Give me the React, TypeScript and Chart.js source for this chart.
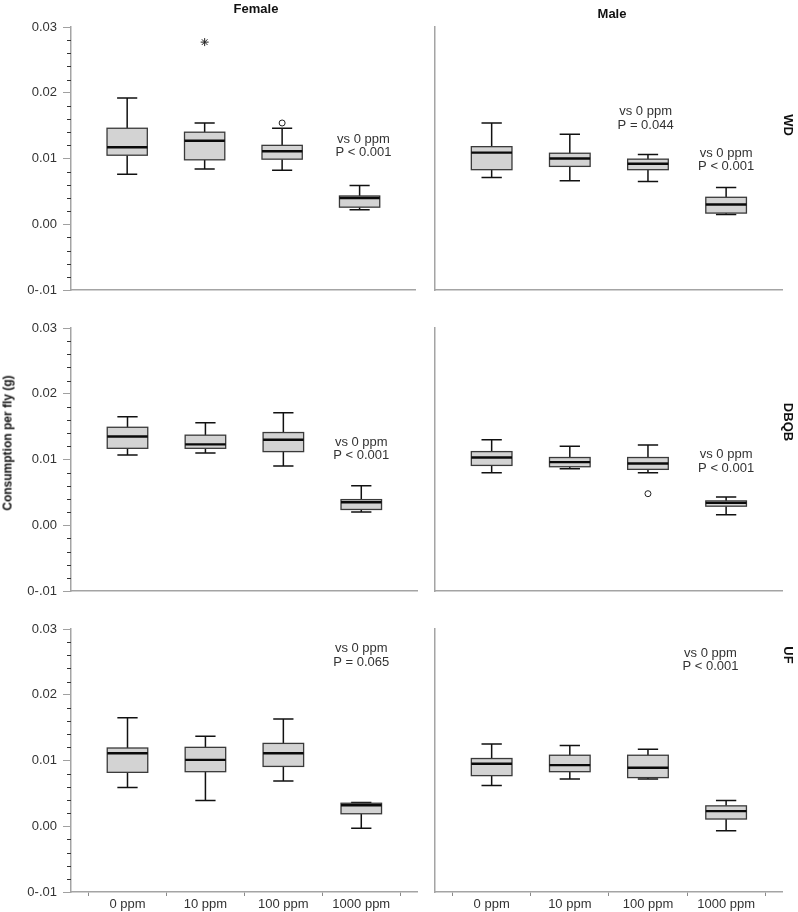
import React, { useEffect, useRef } from 'react';
import { Chart, registerables } from 'chart.js';

Chart.register(...registerables);

const FONT = '"Liberation Sans", Arial, sans-serif';

const doses = ['0 ppm', '10 ppm', '100 ppm', '1000 ppm'];

// y axis: major tick values and their printed labels
const yMajorValues = [-0.01, 0, 0.01, 0.02, 0.03];
const yMajorLabels = ['0-.01', '0.00', '0.01', '0.02', '0.03'];

// five-number summaries per dose: [lower whisker, Q1, median, Q3, upper whisker]
const wdFemale = [
  [0.0076, 0.0105, 0.0117, 0.0146, 0.0192],
  [0.0084, 0.0098, 0.0127, 0.014, 0.0154],
  [0.0082, 0.0099, 0.0111, 0.012, 0.0146],
  [0.0022, 0.0026, 0.004, 0.0043, 0.0059],
];
const wdMale = [
  [0.0071, 0.0083, 0.0109, 0.0118, 0.0154],
  [0.0066, 0.0088, 0.01, 0.0108, 0.0137],
  [0.0065, 0.0083, 0.0092, 0.0099, 0.0106],
  [0.0015, 0.0017, 0.003, 0.0041, 0.0056],
];
const dbqbFemale = [
  [0.0107, 0.0117, 0.0135, 0.0149, 0.0165],
  [0.011, 0.0117, 0.0123, 0.0137, 0.0156],
  [0.009, 0.0112, 0.013, 0.0141, 0.0171],
  [0.002, 0.0024, 0.0035, 0.0039, 0.006],
];
const dbqbMale = [
  [0.008, 0.0091, 0.0103, 0.0112, 0.013],
  [0.0086, 0.0089, 0.0096, 0.0103, 0.012],
  [0.008, 0.0085, 0.0094, 0.0103, 0.0122],
  [0.0016, 0.0029, 0.0034, 0.0037, 0.0043],
];
const ufFemale = [
  [0.0059, 0.0082, 0.0111, 0.0119, 0.0165],
  [0.0039, 0.0083, 0.0101, 0.012, 0.0137],
  [0.0069, 0.0091, 0.0111, 0.0126, 0.0163],
  [-0.0003, 0.0019, 0.0032, 0.0035, 0.0036],
];
const ufMale = [
  [0.0062, 0.0077, 0.0095, 0.0103, 0.0125],
  [0.0072, 0.0083, 0.0093, 0.0108, 0.0123],
  [0.0072, 0.0074, 0.0089, 0.0108, 0.0117],
  [-0.0007, 0.0011, 0.0023, 0.0031, 0.0039],
];

// outliers: dose index, value, extreme (*) or mild (o)
const wdFemaleOutliers = [
  { dose: 1, value: 0.0277, extreme: true },
  { dose: 2, value: 0.0154, extreme: false },
];
const dbqbMaleOutliers = [{ dose: 2, value: 0.0048, extreme: false }];

// comparison notes, centred at (dose position, value)
const wdFemaleNotes = [{ dose: 3.05, value: 0.0119, text: ['vs 0 ppm', 'P < 0.001'] }];
const wdMaleNotes = [
  { dose: 1.97, value: 0.0161, text: ['vs 0 ppm', 'P = 0.044'] },
  { dose: 3.0, value: 0.0098, text: ['vs 0 ppm', 'P < 0.001'] },
];
const dbqbFemaleNotes = [{ dose: 3.0, value: 0.0116, text: ['vs 0 ppm', 'P < 0.001'] }];
const dbqbMaleNotes = [{ dose: 3.0, value: 0.0097, text: ['vs 0 ppm', 'P < 0.001'] }];
const ufFemaleNotes = [{ dose: 3.0, value: 0.026, text: ['vs 0 ppm', 'P = 0.065'] }];
const ufMaleNotes = [{ dose: 2.8, value: 0.0253, text: ['vs 0 ppm', 'P < 0.001'] }];

type Outlier = { dose: number; value: number; extreme: boolean };
type Note = { dose: number; value: number; text: string[] };

const columns = [
  { left: 0, width: 420, axisWidth: 71, padRight: 3, showY: true },
  { left: 420, width: 378, axisWidth: 15, padRight: 16, showY: false },
];
const rows = [
  { top: 0, height: 300, padTop: 27, axisHeight: 10, showX: false },
  { top: 300, height: 300, padTop: 28, axisHeight: 9, showX: false },
  { top: 600, height: 312, padTop: 29, axisHeight: 20, showX: true },
];

const panels: { row: number; col: number; boxes: number[][]; outliers: Outlier[]; notes: Note[] }[] = [
  { row: 0, col: 0, boxes: wdFemale, outliers: wdFemaleOutliers, notes: wdFemaleNotes },
  { row: 0, col: 1, boxes: wdMale, outliers: [], notes: wdMaleNotes },
  { row: 1, col: 0, boxes: dbqbFemale, outliers: [], notes: dbqbFemaleNotes },
  { row: 1, col: 1, boxes: dbqbMale, outliers: dbqbMaleOutliers, notes: dbqbMaleNotes },
  { row: 2, col: 0, boxes: ufFemale, outliers: [], notes: ufFemaleNotes },
  { row: 2, col: 1, boxes: ufMale, outliers: [], notes: ufMaleNotes },
];

const AXIS_COLOR = '#a4a4a4';
const TEXT_COLOR = '#333333';
const BOX_HALF = 0.26;
const CAP_HALF = 0.13;

const isMajor = (v: number) => Math.round(v * 500) % 5 === 0;

function Panel({ row, col, boxes, outliers, notes }: typeof panels[number]) {
  const ref = useRef<HTMLCanvasElement | null>(null);
  const r = rows[row];
  const c = columns[col];

  useEffect(() => {
    if (!ref.current) return;

    const yTicks: number[] = [];
    for (let k = -5; k <= 15; k++) yTicks.push(k * 0.002);
    const xTicks = [-0.5, 0, 0.5, 1, 1.5, 2, 2.5, 3, 3.5];

    const boxPlugin = {
      id: 'boxplots',
      beforeDatasetsDraw(chart: any) {
        const { ctx, scales } = chart;
        const xs = scales.x;
        const ys = scales.y;
        ctx.save();
        boxes.forEach((b, i) => {
          const [lo, q1, med, q3, hi] = b;
          const xc = xs.getPixelForValue(i);
          const x0 = xs.getPixelForValue(i - BOX_HALF);
          const x1 = xs.getPixelForValue(i + BOX_HALF);
          const c0 = xs.getPixelForValue(i - CAP_HALF);
          const c1 = xs.getPixelForValue(i + CAP_HALF);
          const yLo = ys.getPixelForValue(lo);
          const yQ1 = ys.getPixelForValue(q1);
          const yMed = ys.getPixelForValue(med);
          const yQ3 = ys.getPixelForValue(q3);
          const yHi = ys.getPixelForValue(hi);

          // whiskers and caps
          ctx.strokeStyle = '#111';
          ctx.lineWidth = 1.5;
          ctx.beginPath();
          ctx.moveTo(xc, yHi);
          ctx.lineTo(xc, yQ3);
          ctx.moveTo(xc, yQ1);
          ctx.lineTo(xc, yLo);
          ctx.moveTo(c0, yHi);
          ctx.lineTo(c1, yHi);
          ctx.moveTo(c0, yLo);
          ctx.lineTo(c1, yLo);
          ctx.stroke();

          // interquartile box
          ctx.fillStyle = '#d3d3d3';
          ctx.fillRect(x0, yQ3, x1 - x0, yQ1 - yQ3);
          ctx.strokeStyle = '#3a3a3a';
          ctx.lineWidth = 1.3;
          ctx.strokeRect(x0, yQ3, x1 - x0, yQ1 - yQ3);

          // median
          ctx.strokeStyle = '#0a0a0a';
          ctx.lineWidth = 2.4;
          ctx.beginPath();
          ctx.moveTo(x0, yMed);
          ctx.lineTo(x1, yMed);
          ctx.stroke();
        });
        ctx.restore();
      },
      afterDraw(chart: any) {
        const { ctx, scales, chartArea } = chart;
        const xs = scales.x;
        const ys = scales.y;
        ctx.save();
        // minor ticks on the value axis
        if (c.showY) {
          ctx.strokeStyle = '#333';
          ctx.lineWidth = 1;
          ctx.beginPath();
          yTicks.forEach((v) => {
            if (isMajor(v)) return;
            const yp = Math.round(ys.getPixelForValue(v)) + 0.5;
            ctx.moveTo(chartArea.left - 4, yp);
            ctx.lineTo(chartArea.left, yp);
          });
          ctx.stroke();
        }
        // comparison notes
        ctx.fillStyle = TEXT_COLOR;
        ctx.font = `13px ${FONT}`;
        ctx.textAlign = 'center';
        ctx.textBaseline = 'middle';
        notes.forEach((n) => {
          const xp = xs.getPixelForValue(n.dose);
          const yp = ys.getPixelForValue(n.value);
          const lh = 13.5;
          n.text.forEach((line, k) => {
            ctx.fillText(line, xp, yp + (k - (n.text.length - 1) / 2) * lh);
          });
        });
        ctx.restore();
      },
    };

    const chart = new Chart(ref.current, {
      type: 'scatter',
      data: {
        datasets: [
          {
            data: outliers.filter((o) => !o.extreme).map((o) => ({ x: o.dose, y: o.value })),
            pointStyle: 'circle',
            pointRadius: 3,
            borderColor: '#222',
            backgroundColor: 'rgba(0,0,0,0)',
            borderWidth: 1,
          },
          {
            data: outliers.filter((o) => o.extreme).map((o) => ({ x: o.dose, y: o.value })),
            pointStyle: 'star',
            pointRadius: 4,
            borderColor: '#222',
            backgroundColor: 'rgba(0,0,0,0)',
            borderWidth: 1,
          },
        ],
      },
      options: {
        responsive: false,
        animation: false,
        events: [],
        layout: { padding: { top: r.padTop, right: c.padRight, left: 0, bottom: 0 } },
        plugins: { legend: { display: false }, tooltip: { enabled: false } },
        scales: {
          x: {
            type: 'linear',
            position: 'bottom',
            min: -0.725,
            max: 3.715,
            afterBuildTicks: (s: any) => {
              s.ticks = r.showX ? xTicks.map((v) => ({ value: v })) : [];
            },
            afterFit: (s: any) => {
              s.height = r.axisHeight;
              s.paddingLeft = 0;
              s.paddingRight = 0;
            },
            ticks: {
              display: r.showX,
              autoSkip: false,
              maxRotation: 0,
              padding: 1,
              color: TEXT_COLOR,
              font: { size: 13, family: FONT },
              callback: (v: any) => (Number.isInteger(v) ? doses[v] : ''),
            },
            grid: {
              display: r.showX,
              drawOnChartArea: false,
              drawTicks: true,
              tickLength: 4,
              tickColor: (ctx: any) =>
                ctx.tick && Number.isInteger(ctx.tick.value) ? 'rgba(0,0,0,0)' : '#8a8a8a',
            },
            border: { display: true, color: AXIS_COLOR, width: 1.5 },
          },
          y: {
            type: 'linear',
            min: -0.01,
            max: 0.03,
            afterBuildTicks: (s: any) => {
              s.ticks = c.showY ? yTicks.map((v) => ({ value: v })) : [];
            },
            afterFit: (s: any) => {
              s.width = c.axisWidth;
              s.paddingTop = 0;
              s.paddingBottom = 0;
            },
            ticks: {
              display: c.showY,
              autoSkip: false,
              padding: 6,
              color: TEXT_COLOR,
              font: { size: 13, family: FONT },
              callback: (v: any) => {
                if (!isMajor(v)) return '';
                const idx = yMajorValues.findIndex((m) => Math.abs(m - v) < 1e-6);
                return idx >= 0 ? yMajorLabels[idx] : '';
              },
            },
            grid: {
              display: c.showY,
              drawOnChartArea: false,
              drawTicks: true,
              tickLength: 8,
              tickColor: (ctx: any) =>
                ctx.tick && isMajor(ctx.tick.value) ? '#a0a0a0' : 'rgba(0,0,0,0)',
            },
            border: { display: true, color: AXIS_COLOR, width: 1.5 },
          },
        },
      },
      plugins: [boxPlugin],
    } as any);

    return () => chart.destroy();
  }, []);

  return (
    <canvas
      ref={ref}
      width={c.width}
      height={r.height}
      style={{ position: 'absolute', left: c.left, top: r.top, width: c.width, height: r.height, display: 'block' }}
    />
  );
}

const labelStyle: React.CSSProperties = {
  position: 'absolute',
  fontFamily: FONT,
  fontWeight: 'bold',
  fontSize: 13,
  color: '#111',
  whiteSpace: 'nowrap',
  lineHeight: '15px',
};

const columnTitles = [
  { text: 'Female', x: 256, y: 8 },
  { text: 'Male', x: 612, y: 13 },
];
const rowTitles = [
  { text: 'WD', x: 788, y: 125 },
  { text: 'DBQB', x: 788, y: 422 },
  { text: 'UF', x: 788, y: 655 },
];

export default function App() {
  return (
    <div style={{ position: 'absolute', left: 0, top: 0, width: 798, height: 912, background: '#fff', overflow: 'hidden' }}>
      {panels.map((p, i) => (
        <Panel key={i} {...p} />
      ))}
      {columnTitles.map((t) => (
        <div key={t.text} style={{ ...labelStyle, left: t.x, top: t.y, transform: 'translate(-50%, -50%)' }}>
          {t.text}
        </div>
      ))}
      {rowTitles.map((t) => (
        <div
          key={t.text}
          style={{ ...labelStyle, left: t.x, top: t.y, transform: 'translate(-50%, -50%) rotate(90deg)' }}
        >
          {t.text}
        </div>
      ))}
      <div style={{ ...labelStyle, fontSize: 12, left: 8, top: 443, transform: 'translate(-50%, -50%) rotate(-90deg)' }}>
        Consumption per fly (g)
      </div>
    </div>
  );
}
